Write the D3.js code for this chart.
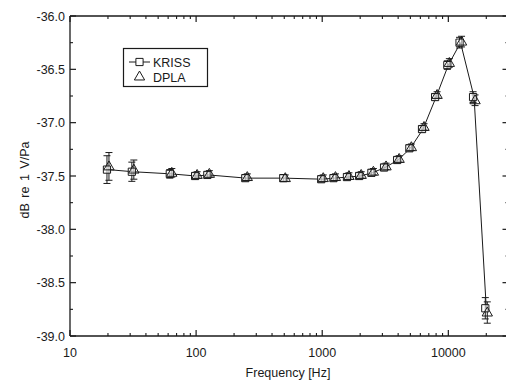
<!DOCTYPE html>
<html>
<head>
<meta charset="utf-8">
<script src="https://cdn.jsdelivr.net/npm/d3@7"></script>
<style>
  body { margin: 0; background: #fff; }
  svg { font-family: "Liberation Sans", Arial, sans-serif; }
</style>
</head>
<body>
<div id="chart"></div>
<script>
// data
const freqs = [20, 31.5, 63, 100, 125, 250, 500, 1000, 1250, 1600, 2000, 2500, 3150, 4000, 5000, 6300, 8000, 10000, 12500, 16000, 20000];
const kriss = [-37.44, -37.46, -37.48, -37.50, -37.49, -37.52, -37.52, -37.53, -37.52, -37.51, -37.50, -37.47, -37.42, -37.35, -37.24, -37.06, -36.76, -36.46, -36.25, -36.76, -38.74];
const dpla  = [-37.41, -37.44, -37.47, -37.49, -37.48, -37.51, -37.52, -37.52, -37.51, -37.50, -37.49, -37.46, -37.41, -37.34, -37.23, -37.04, -36.74, -36.44, -36.24, -36.79, -38.78];
const errs  = [0.13, 0.09, 0.04, 0.03, 0.03, 0.03, 0.03, 0.03, 0.03, 0.03, 0.03, 0.03, 0.03, 0.03, 0.03, 0.03, 0.03, 0.04, 0.05, 0.05, 0.1];
const yTicks = [-36.0, -36.5, -37.0, -37.5, -38.0, -38.5, -39.0];
const xTicks = [10, 100, 1000, 10000];
const seriesNames = ["KRISS", "DPLA"];

const W = 506, H = 380;
const pL = 70, pR = 508.5, pT = 16, pB = 336;
const ink = "#1a1a1a";

const svg = d3.select("#chart").append("svg")
    .attr("width", W).attr("height", H);

const x = d3.scaleLog().domain([10, 30000]).range([pL, pR]);
const y = d3.scaleLinear().domain([-39, -36]).range([pB, pT]);

// minor ticks
const xMinor = [];
for (let d = 10; d <= 10000; d *= 10) {
    for (let k = 2; k <= 9; k++) if (d * k <= 30000) xMinor.push(d * k);
}
const yMinor = d3.range(-38.75, -36, 0.5);

// axes (ticks pointing inward)
function axisX(g, pos, dir) {
    g.append("line").attr("x1", pL).attr("x2", pR).attr("y1", pos).attr("y2", pos)
        .attr("stroke", ink).attr("stroke-width", 1.3);
    g.selectAll(".maj").data(xTicks).enter().append("line")
        .attr("x1", d => x(d)).attr("x2", d => x(d))
        .attr("y1", pos).attr("y2", pos + dir * 6)
        .attr("stroke", ink).attr("stroke-width", 1.2);
    g.selectAll(".min").data(xMinor).enter().append("line")
        .attr("x1", d => x(d)).attr("x2", d => x(d))
        .attr("y1", pos).attr("y2", pos + dir * 3)
        .attr("stroke", ink).attr("stroke-width", 1.1);
}
function axisY(g, pos, dir) {
    g.append("line").attr("x1", pos).attr("x2", pos).attr("y1", pT).attr("y2", pB)
        .attr("stroke", ink).attr("stroke-width", 1.3);
    g.selectAll(".maj").data(yTicks).enter().append("line")
        .attr("x1", pos).attr("x2", pos + dir * 6)
        .attr("y1", d => y(d)).attr("y2", d => y(d))
        .attr("stroke", ink).attr("stroke-width", 1.2);
    g.selectAll(".min").data(yMinor).enter().append("line")
        .attr("x1", pos).attr("x2", pos + dir * 3)
        .attr("y1", d => y(d)).attr("y2", d => y(d))
        .attr("stroke", ink).attr("stroke-width", 1.1);
}
axisX(svg.append("g"), pB, -1);
axisX(svg.append("g"), pT, 1);
axisY(svg.append("g"), pL, 1);
axisY(svg.append("g"), pR, -1);

// tick labels
svg.append("g").selectAll("text").data(yTicks).enter().append("text")
    .attr("x", pL - 5).attr("y", d => y(d) + 4.5)
    .attr("text-anchor", "end").attr("font-size", 12.5).attr("fill", ink)
    .text(d => d.toFixed(1));
svg.append("g").selectAll("text").data(xTicks).enter().append("text")
    .attr("x", d => x(d)).attr("y", pB + 21)
    .attr("text-anchor", "middle").attr("font-size", 12.5).attr("fill", ink)
    .text(d => d);

// axis titles
svg.append("text")
    .attr("x", (pL + 506) / 2).attr("y", 377)
    .attr("text-anchor", "middle").attr("font-size", 12.5).attr("fill", ink)
    .text("Frequency  [Hz]");
svg.append("text")
    .attr("transform", `translate(29,${(pT + pB) / 2 + 4}) rotate(-90)`)
    .attr("text-anchor", "middle").attr("font-size", 12.5).attr("fill", ink)
    .attr("word-spacing", 2)
    .text("dB re 1 V/Pa");

const plot = svg.append("g");

const rows = freqs.map((f, i) => ({ f, k: kriss[i], d: dpla[i], e: errs[i] }));

// error bars
function errorBars(key, dx) {
    const g = plot.append("g").attr("stroke", ink).attr("stroke-width", 1);
    rows.forEach(r => {
        const cx = x(r.f) + dx;
        g.append("line").attr("x1", cx).attr("x2", cx)
            .attr("y1", y(r[key] - r.e)).attr("y2", y(r[key] + r.e));
        [r[key] - r.e, r[key] + r.e].forEach(v => {
            g.append("line").attr("x1", cx - 3.5).attr("x2", cx + 3.5)
                .attr("y1", y(v)).attr("y2", y(v));
        });
    });
}
errorBars("k", -1);
errorBars("d", 1);

// KRISS line
const line = d3.line().x(d => x(d.f)).y(d => y(d.k));
plot.append("path").datum(rows).attr("d", line)
    .attr("fill", "none").attr("stroke", ink).attr("stroke-width", 1);

// markers
const sq = d3.symbol().type(d3.symbolSquare).size(52);
const tri = d3.symbol().type(d3.symbolTriangle).size(46);
plot.selectAll(".sq").data(rows).enter().append("path")
    .attr("transform", d => `translate(${x(d.f) - 1},${y(d.k)})`)
    .attr("d", sq).attr("fill", "#fff").attr("fill-opacity", 0.6)
    .attr("stroke", ink).attr("stroke-width", 1);
plot.selectAll(".tri").data(rows).enter().append("path")
    .attr("transform", d => `translate(${x(d.f) + 1},${y(d.d) + 0.5})`)
    .attr("d", tri).attr("fill", "none")
    .attr("stroke", ink).attr("stroke-width", 1);

// legend
const lg = svg.append("g");
lg.append("rect").attr("x", 123.5).attr("y", 48.5).attr("width", 84).attr("height", 38)
    .attr("fill", "#fff").attr("stroke", ink).attr("stroke-width", 1.2);
lg.append("line").attr("x1", 129).attr("x2", 150).attr("y1", 62).attr("y2", 62)
    .attr("stroke", ink).attr("stroke-width", 1);
lg.append("path").attr("transform", "translate(139.5,62)").attr("d", sq)
    .attr("fill", "#fff").attr("stroke", ink);
lg.append("path").attr("transform", "translate(139.5,77)").attr("d", tri)
    .attr("fill", "none").attr("stroke", ink);
lg.selectAll("text").data(seriesNames).enter().append("text")
    .attr("x", 153).attr("y", (d, i) => 66.5 + i * 15.5)
    .attr("font-size", 12.5).attr("fill", ink)
    .text(d => d);
</script>
</body>
</html>
